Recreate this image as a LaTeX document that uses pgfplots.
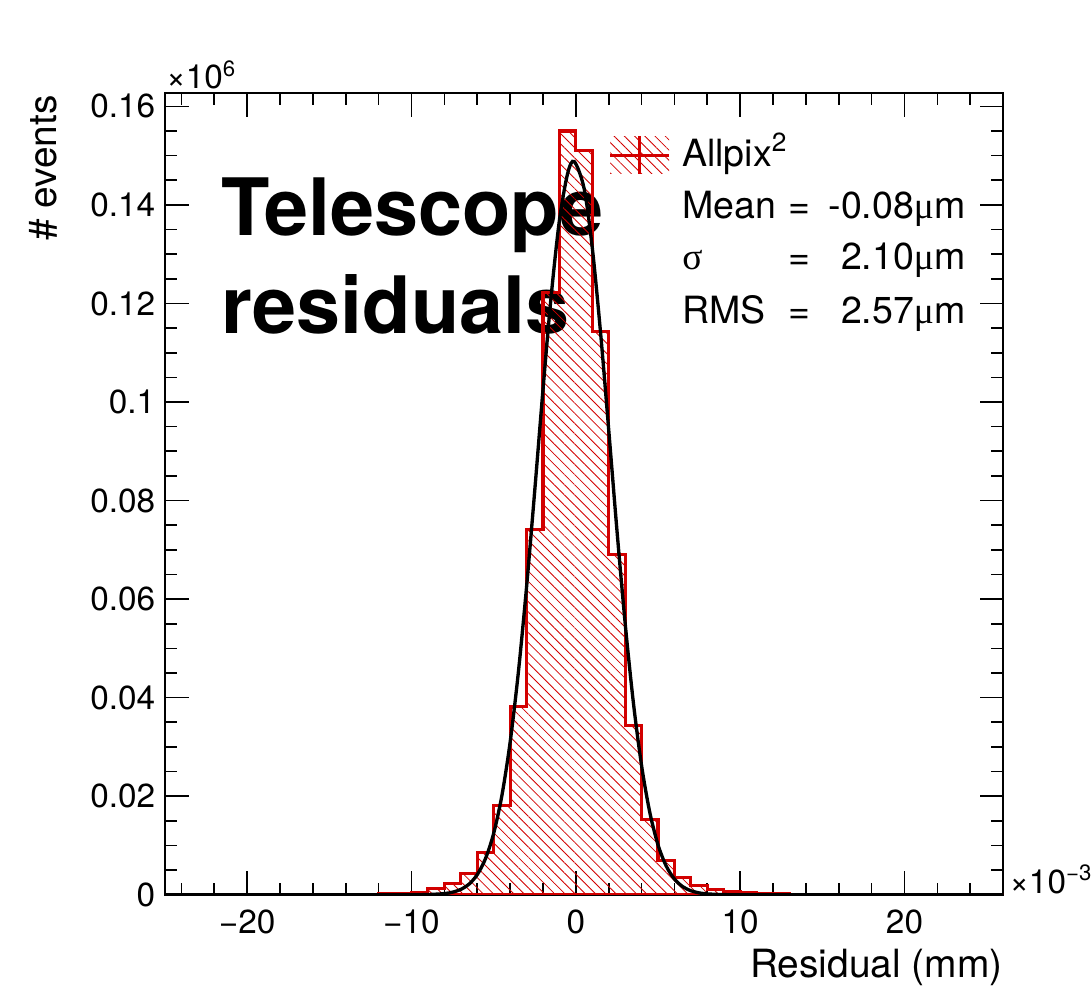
\documentclass[border=0pt]{standalone}
\usepackage{fontspec}
\setmainfont{TeX Gyre Heros}
\newfontfamily\symfont{Liberation Serif}
\usepackage{pgfplots}
\pgfplotsset{compat=1.18}
\usetikzlibrary{patterns.meta}
\definecolor{histred}{RGB}{210,0,0}
\newcommand{\tickfont}{\fontsize{12}{14}\selectfont}
\newcommand{\labfont}{\fontsize{14}{16}\selectfont}
\newcommand{\legfont}{\fontsize{13.5}{16}\selectfont}
\tikzset{hatch/.style={pattern={Lines[angle=-45,distance=2.6pt,line width=0.3pt]}, pattern color=histred}}

\begin{document}
\begin{tikzpicture}
\begin{axis}[
  scale only axis, width=301.7pt, height=288.6pt,
  xmin=-25, xmax=26, ymin=0, ymax=0.1627,
  axis line style={line width=0.7pt},
  tick style={black, line width=0.6pt},
  tick align=inside,
  major tick length=8.5pt, minor tick length=4.2pt,
  xtick={-20,-10,0,10,20},
  xticklabels={−20,−10,0,10,20},
  minor xtick={-24,-22,-18,-16,-14,-12,-8,-6,-4,-2,2,4,6,8,12,14,16,18,22,24},
  ytick={0,0.02,0.04,0.06,0.08,0.1,0.12,0.14,0.16},
  yticklabels={0,0.02,0.04,0.06,0.08,0.1,0.12,0.14,0.16},
  minor ytick={0.005,0.01,0.015,0.025,0.03,0.035,0.045,0.05,0.055,0.065,0.07,0.075,
               0.085,0.09,0.095,0.105,0.11,0.115,0.125,0.13,0.135,0.145,0.15,0.155},
  tick label style={font=\tickfont},
  xticklabel style={yshift=-2pt},
  scaled ticks=false,
]
% big label, under the histogram
\node[anchor=base west, inner sep=0pt, font=\fontsize{28.5}{34}\selectfont\bfseries]
  at (rel axis cs:0.0669,0.822) {Telescope};
\node[anchor=base west, inner sep=0pt, font=\fontsize{28.5}{34}\selectfont\bfseries]
  at (rel axis cs:0.0669,0.6998) {residuals};

% histogram, bins of 1 (x10^-3 mm), left edges
\addplot[const plot mark left, draw=histred, line width=1.1pt, hatch]
  coordinates {
  (-25,0.00002)(-24,0.00002)(-23,0.00002)(-22,0.00003)(-21,0.00003)(-20,0.00003)
  (-19,0.00004)(-18,0.00004)(-17,0.00005)(-16,0.00006)(-15,0.00008)(-14,0.0001)
  (-13,0.00012)(-12,0.00018)(-11,0.0003)(-10,0.00045)(-9,0.0012)(-8,0.0023)
  (-7,0.0043)(-6,0.0086)(-5,0.0181)(-4,0.0383)(-3,0.0742)(-2,0.1223)
  (-1,0.1550)(0,0.1511)(1,0.1143)(2,0.0691)(3,0.0344)(4,0.0153)
  (5,0.0070)(6,0.0035)(7,0.0019)(8,0.0011)(9,0.0006)(10,0.0004)
  (11,0.00025)(12,0.00018)(13,0.00012)(14,0.0001)(15,0.00008)(16,0.00006)
  (17,0.00005)(18,0.00004)(19,0.00003)(20,0.00003)(21,0.00002)(22,0.00002)
  (23,0.00002)(24,0.00002)(25,0.00002)(26,0.00002)
  } \closedcycle;

% gaussian fit
\addplot[black, line width=1.2pt, smooth] coordinates {
  (-25,0)(-15,0)(-12,0)(-10,0.000006)(-9,0.000042)(-8,0.000236)(-7.5,0.00052)
  (-7,0.00109)(-6.5,0.00216)(-6,0.00408)(-5.5,0.00732)(-5,0.01246)(-4.5,0.02014)
  (-4,0.03092)(-3.5,0.04508)(-3,0.06242)(-2.5,0.08206)(-2,0.10248)(-1.5,0.12152)
  (-1,0.13685)(-0.5,0.14636)(-0.1,0.1488)(0.5,0.14337)(1,0.13132)(1.5,0.11422)
  (2,0.09436)(2.5,0.07401)(3,0.05513)(3.5,0.03901)(4,0.02621)(4.5,0.01672)
  (5,0.01013)(5.5,0.00583)(6,0.00319)(6.5,0.00165)(7,0.000815)(7.5,0.000381)
  (8,0.000169)(9,0.000029)(10,0.000004)(12,0)(15,0)(26,0)
};

\coordinate (SW) at (rel axis cs:0,0);
\coordinate (NE) at (rel axis cs:1,1);
\end{axis}

% axis titles and scale factors
\node[anchor=base east, inner sep=0pt, font=\labfont] at ([xshift=301.7pt,yshift=-29.9pt]SW) {Residual (mm)};
\node[rotate=90, anchor=base east, inner sep=0pt, font=\labfont] at ([xshift=-38.9pt,yshift=288pt]SW) {\# events};
\node[anchor=base west, font=\tickfont, inner sep=0pt] at ([xshift=0.3pt,yshift=290.1pt]SW) {×10\textsuperscript{6}};
\node[anchor=base west, font=\tickfont, inner sep=0pt] at ([xshift=303.8pt,yshift=0.6pt]SW) {×10\textsuperscript{−3}};

% legend
\fill[hatch] ([xshift=160.2pt,yshift=259.6pt]SW) rectangle ([xshift=181.5pt,yshift=273.0pt]SW);
\draw[histred, line width=1.1pt] ([xshift=160.2pt,yshift=266.0pt]SW) -- ([xshift=181.5pt,yshift=266.0pt]SW);
\draw[histred, line width=1.1pt] ([xshift=170.7pt,yshift=259.6pt]SW) -- ([xshift=170.7pt,yshift=273.0pt]SW);
\begin{scope}[font=\legfont, inner sep=0pt]
\node[anchor=base west] at ([xshift=186pt,yshift=262.2pt]SW) {Allpix\textsuperscript{2}};
\node[anchor=base west] at ([xshift=186pt,yshift=243.3pt]SW) {Mean};
\node[anchor=base west] at ([xshift=186pt,yshift=225pt]SW) {{\symfont σ}};
\node[anchor=base west] at ([xshift=186pt,yshift=205.8pt]SW) {RMS};
\node[anchor=base] at ([xshift=228.3pt,yshift=243.3pt]SW) {=};
\node[anchor=base] at ([xshift=228.3pt,yshift=225pt]SW) {=};
\node[anchor=base] at ([xshift=228.3pt,yshift=205.8pt]SW) {=};
\node[anchor=base east] at ([xshift=288.3pt,yshift=243.3pt]SW) {-0.08{\symfont μ}m};
\node[anchor=base east] at ([xshift=288.3pt,yshift=225pt]SW) {2.10{\symfont μ}m};
\node[anchor=base east] at ([xshift=288.3pt,yshift=205.8pt]SW) {2.57{\symfont μ}m};
\end{scope}

\pgfresetboundingbox
\path ([xshift=-59.4pt,yshift=-35.3pt]SW) rectangle ([xshift=32pt,yshift=33.5pt]NE);
\end{tikzpicture}
\end{document}
